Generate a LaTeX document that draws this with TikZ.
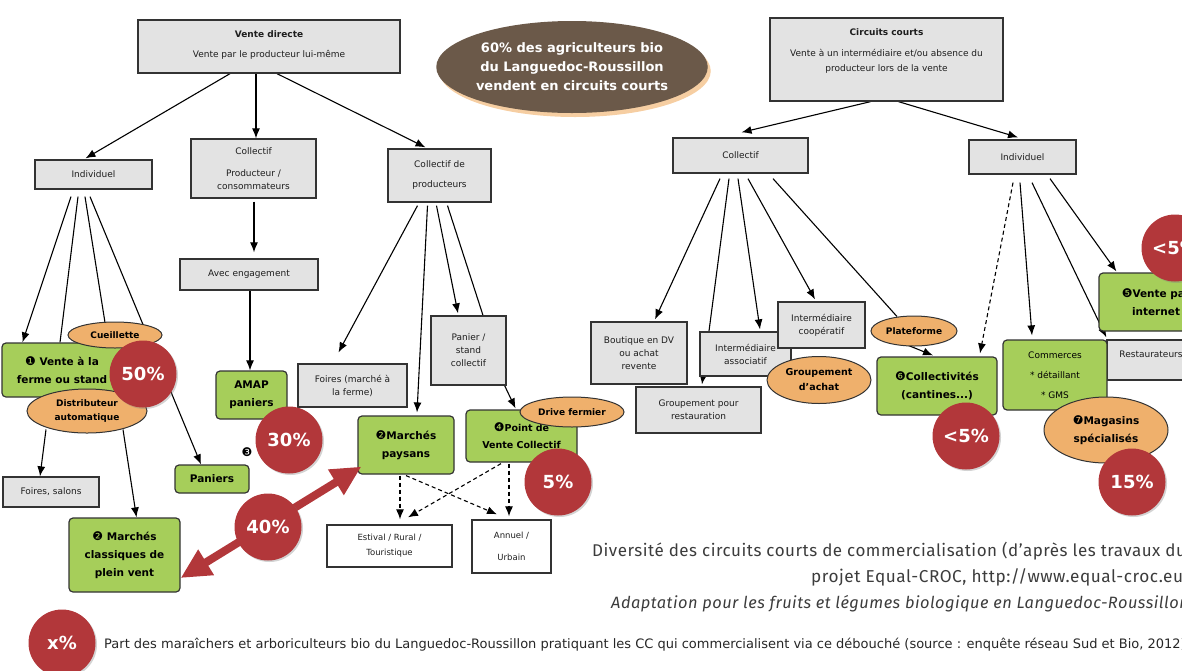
\documentclass[tikz,border=0pt]{standalone}
\usepackage{fontspec}
\setmainfont{DejaVu Sans}
\newfontfamily\symfont{DejaVu Sans}
\newfontfamily\capfont[LetterSpace=3]{Fira Sans}
\usetikzlibrary{arrows.meta,calc,shapes.geometric,shadows,backgrounds}
\definecolor{boxgray}{HTML}{E3E3E3}
\definecolor{boxline}{HTML}{333333}
\definecolor{boxink}{HTML}{1E1E1E}
\definecolor{leaf}{HTML}{A6CE5A}
\definecolor{tan}{HTML}{EFB06C}
\definecolor{pctred}{HTML}{B2373A}
\definecolor{earth}{HTML}{6B5949}
\definecolor{glow}{HTML}{F2B97A}
\definecolor{captxt}{HTML}{3C3C3C}
\newcommand\circnum[1]{{\symfont\mdseries\fontsize{12}{12}\selectfont #1}}
\tikzset{
  graybox/.style={draw=boxline, fill=boxgray, line width=1.3pt, align=center, inner sep=2pt,
    text=boxink, font=\fontsize{9}{13}\selectfont},
  whitebox/.style={graybox, fill=white, font=\fontsize{8.5}{15}\selectfont},
  boxtext/.style={align=center, inner sep=2pt, text=boxink, font=\fontsize{9}{13}\selectfont},
  greenbox/.style={draw=boxline, fill=leaf, line width=1.2pt, rounded corners=4pt, align=center,
    inner sep=2pt, font=\bfseries\fontsize{10.5}{18}\selectfont},
  tanoval/.style={ellipse, draw=boxline, fill=tan, line width=1pt, align=center, inner sep=0pt,
    font=\bfseries\fontsize{9}{14}\selectfont},
  pct/.style={circle, fill=pctred, text=white, minimum size=67pt, inner sep=0pt,
    font=\bfseries\fontsize{18}{18}\selectfont,
    drop shadow={shadow xshift=1.5pt, shadow yshift=-1.5pt, opacity=0.35}},
  arrowline/.style={-{Latex[length=10pt,width=8pt]}, line width=1.1pt, draw=black},
  bareline/.style={line width=1.1pt, draw=black},
  dashline/.style={arrowline, dash pattern=on 4pt off 3pt},
  bigarrow/.style={{Triangle[length=30pt,width=28pt]}-{Triangle[length=30pt,width=28pt]},
    line width=8pt, draw=pctred},
  captext/.style={anchor=west, inner sep=0pt, text=captxt, font=\capfont\fontsize{17.2}{18}\selectfont}
}

\begin{document}
\begin{tikzpicture}[x=1pt,y=-1pt]
  \useasboundingbox (0,0) rectangle (1182,670);
  \clip (0,0) rectangle (1182,670);

  % headings
  \node[graybox, minimum width=262pt, minimum height=53pt] (vd) at (269,46.5) {};
  \node[boxtext, anchor=north] (vdtext) at ($(vd.north)+(0,9)$)
    {\textbf{Vente directe}\\[7pt]Vente par le producteur lui-même};
  \node[ellipse, fill=earth, minimum width=250pt, minimum height=92pt, inner sep=0pt, text=white,
    align=center, font=\bfseries\fontsize{13}{19}\selectfont,
    drop shadow={fill=glow, opacity=0.7, shadow xshift=3pt, shadow yshift=-4pt}] (share) at (572,67)
    {60\% des agriculteurs bio\\du Languedoc-Roussillon\\vendent en circuits courts};
  \node[graybox, minimum width=233pt, minimum height=83pt] (cc) at (886.5,59.5) {};
  \node[boxtext, anchor=north, font=\fontsize{9}{15}\selectfont] (cctext) at ($(cc.north)+(0,9)$)
    {\textbf{Circuits courts}\\[6pt]Vente à un intermédiaire et/ou absence du\\producteur lors de la vente};

  % second level
  \node[graybox, minimum width=117pt, minimum height=29pt] (ind1) at (93.5,174.5) {Individuel};
  \node[graybox, minimum width=125pt, minimum height=59pt] (coll1) at (253.5,168.5)
    {Collectif\\[9pt]Producteur /\\consommateurs};
  \node[graybox, minimum width=103pt, minimum height=53pt] (collprod) at (439.5,175.5)
    {Collectif de\\[7pt]producteurs};
  \node[graybox, minimum width=135pt, minimum height=35pt] (coll2) at (740.5,155.5) {Collectif};
  \node[graybox, minimum width=107pt, minimum height=34pt] (ind2) at (1022.5,157) {Individuel};

  % vente directe, collectif
  \node[graybox, minimum width=138pt, minimum height=31pt] (engag) at (249,274.5) {Avec engagement};
  \node[greenbox, minimum width=71pt, minimum height=48pt] (amap) at (251.5,395) {AMAP\\paniers};
  \node[graybox, minimum width=109pt, minimum height=43pt] (foiresferme) at (352.5,385.5)
    {Foires (marché à\\la ferme)};
  \node[graybox, minimum width=75pt, minimum height=69pt] (panier) at (468.5,350.5)
    {Panier /\\stand\\collectif};
  \node[greenbox, minimum width=96pt, minimum height=58pt] (mpay) at (406,445)
    {\circnum{❷}Marchés\\paysans};
  \node[greenbox, minimum width=111pt, minimum height=52pt, font=\bfseries\fontsize{9.5}{17}\selectfont]
    (pvc) at (521.5,436) {\circnum{❹}Point de\\Vente Collectif};
  \node[tanoval, minimum width=104pt, minimum height=30pt] (drive) at (572,412) {Drive fermier};
  \node[whitebox, minimum width=125pt, minimum height=42pt] (estival) at (389.5,546)
    {Estival / Rural /\\Touristique};
  \node[whitebox, minimum width=79pt, minimum height=53pt] (annuel) at (511.5,546.5)
    {Annuel /\\[7pt]Urbain};

  % vente directe, individuel
  \node[greenbox, minimum width=120pt, minimum height=54pt] (vfs) at (62,370)
    {\circnum{❶} Vente à la\\ferme ou stand};
  \node[tanoval, minimum width=94pt, minimum height=26pt] (cueil) at (115,335) {Cueillette};
  \node[tanoval, minimum width=120pt, minimum height=44pt] (distrib) at (87,411)
    {Distributeur\\automatique};
  \node[graybox, minimum width=96pt, minimum height=30pt] (foires) at (51,492) {Foires, salons};
  \node[greenbox, minimum width=111pt, minimum height=74pt] (mcl) at (124.5,555)
    {\circnum{❷} Marchés\\classiques de\\plein vent};
  \node[greenbox, minimum width=74pt, minimum height=28pt] (paniers) at (212,479) {Paniers};
  \node[font=\fontsize{12}{12}\selectfont, inner sep=0pt] (num3) at (247,452) {❸};

  % circuits courts, collectif
  \node[graybox, minimum width=96pt, minimum height=62pt] (boutique) at (639,353)
    {Boutique en DV\\ou achat\\revente};
  \node[graybox, minimum width=125pt, minimum height=46pt] (grest) at (698.5,410)
    {Groupement pour\\restauration};
  \node[graybox, minimum width=91pt, minimum height=44pt] (iasso) at (745.5,354)
    {Intermédiaire\\associatif};
  \node[graybox, minimum width=87pt, minimum height=46pt] (icoop) at (821.5,325)
    {Intermédiaire\\coopératif};
  \node[tanoval, minimum width=104pt, minimum height=47pt, font=\bfseries\fontsize{9.5}{15}\selectfont]
    (gachat) at (819,380) {Groupement\\d’achat};
  \node[tanoval, minimum width=86pt, minimum height=30pt] (plate) at (914,331) {Plateforme};
  \node[greenbox, minimum width=120pt, minimum height=58pt] (collv) at (937,386)
    {\circnum{❻}Collectivités\\(cantines...)};

  % circuits courts, individuel
  \node[graybox, minimum width=88pt, minimum height=40pt, text depth=12pt] (restau) at (1151,360)
    {Restaurateurs};
  \node[greenbox, minimum width=104pt, minimum height=70pt, font=\fontsize{9}{13}\selectfont]
    (commerces) at (1055,375) {Commerces\\[7pt]* détaillant\\[7pt]* GMS};
  \node[tanoval, minimum width=124pt, minimum height=66pt, font=\bfseries\fontsize{10.5}{18}\selectfont]
    (magasins) at (1106,430) {\circnum{❼}Magasins\\spécialisés};
  \node[greenbox, minimum width=114pt, minimum height=58pt] (vpi) at (1156,302)
    {\circnum{❺}Vente par\\internet};

  % shares
  \node[pct] (pct30) at (289,440) {30\%};
  \node[pct] (pct5) at (558,482) {5\%};
  \node[pct] (pct50) at (143,374) {50\%};
  \node[pct] (pct5b) at (966,436) {<5\%};
  \node[pct] (pct15) at (1132,482) {15\%};
  \node[pct] (pct5c) at (1175,248) {<5\%};

  \begin{scope}[on background layer]
    % from the headings
    \draw[arrowline] ($(vd.south)+(-39,0)$) -- ($(ind1.north)+(-8,-1)$);
    \draw[arrowline] ($(vd.south)+(-13,0)$) -- ($(coll1.north)+(2.5,0)$);
    \draw[arrowline] ($(vd.south)+(8,0)$) -- ($(collprod.north)+(-14,-1)$);
    \draw[arrowline] ($(cc.south)+(-16,0)$) -- ($(coll2.north)+(1,-5)$);
    \draw[arrowline] ($(cc.south)+(12,0)$) -- ($(ind2.north)+(-4.5,-2)$);

    % individuel (vente directe)
    \draw[arrowline] ($(ind1.south)+(-22.5,7)$) -- ($(vfs.north west)+(21,0)$);
    \draw[bareline] ($(ind1.south)+(-15.5,7)$) -- ($(vfs.north)+(-2,0)$);
    \draw[bareline] ($(ind1.south)+(-8.5,7)$) -- ($(cueil.north)+(-10,1)$);
    \draw[arrowline] ($(ind1.south)+(-3.5,7)$) -- ($(paniers.north)+(-11,0)$);
    \draw[arrowline] ($(distrib.south)+(-41,-4)$) -- ($(foires.north)+(-11,0)$);
    \draw[arrowline] ($(distrib.south)+(36,-4)$) -- ($(mcl.north)+(12,0)$);

    % collectif (vente directe)
    \draw[arrowline] ($(coll1.south)+(0.5,3)$) -- ($(engag.north)+(5,-6)$);
    \draw[arrowline] ($(engag.south)+(1,0)$) -- ($(amap.north)+(-1.5,0)$);
    \draw[arrowline] ($(collprod.south)+(-22,3)$) -- ($(foiresferme.north)+(-14,-11)$);
    \draw[arrowline] ($(collprod.south)+(-12,3)$) -- ($(mpay.north)+(11,-3)$);
    \draw[arrowline] ($(collprod.south)+(-3,3)$) -- ($(panier.north)+(-10.5,-2)$);
    \draw[bareline] ($(collprod.south)+(8,3)$) -- ($(panier.north)+(14.5,0)$);
    \draw[arrowline] ($(panier.south east)+(-2,0)$) -- ($(pvc.north)+(-6,-1)$);
    \draw[dashline] ($(mpay.south)+(-6,1)$) -- ($(estival.north)+(10.5,-5)$);
    \draw[dashline] ($(mpay.south)+(0,1)$) -- ($(annuel.north)+(-14.5,-5)$);
    \draw[dashline] ($(pvc.south)+(-20.5,1)$) -- ($(estival.north)+(18.5,-7)$);
    \draw[dashline] ($(pvc.south)+(-12.5,1)$) -- ($(annuel.north)+(-2.5,-3)$);

    % collectif (circuits courts)
    \draw[arrowline] ($(coll2.south)+(-20.5,5)$) -- ($(boutique.north)+(16,-2)$);
    \draw[arrowline] ($(coll2.south)+(-11.5,5)$) -- ($(grest.north)+(3.5,-2)$);
    \draw[arrowline] ($(coll2.south)+(-2.5,5)$) -- ($(iasso.north)+(14.5,-2)$);
    \draw[arrowline] ($(coll2.south)+(7.5,5)$) -- ($(icoop.north)+(-6.5,-2)$);
    \draw[bareline] ($(coll2.south)+(32.5,5)$) -- ($(plate.north)+(-17,1)$);
    \draw[arrowline] ($(plate.south)+(-8,-2)$) -- ($(collv.north)+(-4,-1)$);

    % individuel (circuits courts)
    \draw[dashline] ($(ind2.south)+(-9.5,8)$) -- ($(collv.north)+(43,-3)$);
    \draw[arrowline] ($(ind2.south)+(-2.5,8)$) -- ($(commerces.north)+(-23,-4)$);
    \draw[arrowline] ($(ind2.south)+(9.5,8)$) -- ($(restau.north west)+(0,-2)$);
    \draw[arrowline] ($(ind2.south)+(27.5,4)$) -- ($(vpi.north west)+(18,-1)$);
  \end{scope}

  % marchés: 40%
  \draw[bigarrow] ($(mcl.east)+(0,23)$) -- ($(mpay.south west)+(4,-8)$);
  \node[pct] (pct40) at (268,527) {40\%};

  % legend and caption
  \node[pct] (pctx) at (62,643) {x\%};
  \node[anchor=west, inner sep=0pt, text=black!85, font=\fontsize{13}{14}\selectfont] (legend) at (104,645)
    {Part des maraîchers et arboriculteurs bio du Languedoc-Roussillon pratiquant les CC qui commercialisent via ce débouché (source : enquête réseau Sud et Bio, 2012)};
  \node[captext, font=\capfont\fontsize{17}{18}\selectfont] (cap1) at (592,551)
    {Diversité des circuits courts de commercialisation (d’après les travaux du};
  \node[captext] (cap2) at (811,577)
    {projet Equal-CROC, http://www.equal-croc.eu)};
  \node[captext, font=\capfont\itshape\fontsize{16.4}{18}\selectfont] (cap3) at (611,604)
    {Adaptation pour les fruits et légumes biologique en Languedoc-Roussillon};
\end{tikzpicture}
\end{document}
